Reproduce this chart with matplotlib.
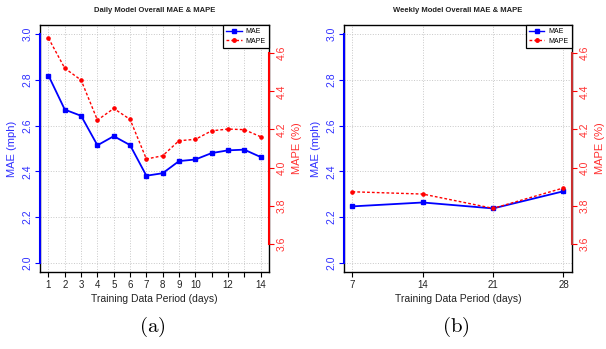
import numpy as np
import matplotlib
matplotlib.use("Agg")
import matplotlib.pyplot as plt
from matplotlib.lines import Line2D

plt.rcParams["font.family"] = ["Liberation Sans", "DejaVu Sans"]
plt.rcParams["mathtext.fontset"] = "cm"

# daily model
daily_days = [1, 2, 3, 4, 5, 6, 7, 8, 9, 10, 11, 12, 13, 14]
daily_mae = [2.819, 2.670, 2.643, 2.514, 2.554, 2.515, 2.381, 2.392,
             2.445, 2.452, 2.480, 2.492, 2.495, 2.463]
daily_mape = [4.679, 4.521, 4.459, 4.249, 4.310, 4.253, 4.045, 4.062,
              4.141, 4.148, 4.193, 4.202, 4.199, 4.162]
daily_xlabels = ["1", "2", "3", "4", "5", "6", "7", "8", "9", "10", "", "12", "", "14"]

# weekly model
weekly_days = [7, 14, 21, 28]
weekly_mae = [2.247, 2.264, 2.238, 2.313]
weekly_mape = [3.873, 3.861, 3.786, 3.893]
weekly_xlabels = ["7", "14", "21", "28"]

mae_ticks = [2.0, 2.2, 2.4, 2.6, 2.8, 3.0]
mape_ticks = [3.6, 3.8, 4.0, 4.2, 4.4, 4.6]

BLUE = "#0000ff"
RED = "#ff0000"


def r_range(lo, hi):
    # R style 4% padding
    pad = (hi - lo) * 0.04
    return lo - pad, hi + pad


def panel(fig, rect, days, mae, mape, xlabels, title, tag, right_col):
    ax = fig.add_axes(rect)
    ax2 = ax.twinx()

    ax.plot(days, mae, color=BLUE, lw=1.3, marker="s", ms=2.8, zorder=3)
    ax2.plot(days, mape, color=RED, lw=1.0, ls=(0, (2, 1.5)), marker="o", ms=2.3, zorder=3)

    ax.set_xlim(*r_range(days[0], days[-1]))
    ax.set_ylim(*r_range(2.0, 3.0))
    ax2.set_ylim(*r_range(3.5, 4.7))

    ax.set_xticks(days)
    ax.set_xticklabels(xlabels, fontsize=7, color="#222222")
    ax.set_yticks(mae_ticks)
    ax.set_yticklabels(["%.1f" % v for v in mae_ticks], fontsize=7.5, color="#3030ff",
                       rotation=90, va="center")
    ax2.set_yticks(mape_ticks)
    ax2.set_yticklabels(["%.1f" % v for v in mape_ticks], fontsize=7.5, color="#ff3030",
                        rotation=90, va="center")

    ax.tick_params(axis="x", length=3.5, width=0.8, pad=2)
    ax.tick_params(axis="y", length=3.5, width=0.8, pad=2, color=BLUE)
    ax2.tick_params(axis="y", length=3.5, width=0.8, pad=2, color=RED)

    ax.grid(True, color="#c8c8c8", ls=":", lw=0.7)
    ax.set_axisbelow(True)

    for s in ax.spines.values():
        s.set_color("black")
        s.set_linewidth(1.0)
    ax2.spines["left"].set_bounds(3.5, 4.7)
    ax2.spines["left"].set_color(BLUE)
    ax2.spines["left"].set_linewidth(1.5)
    ax2.spines["right"].set_bounds(3.6, 4.6)
    ax2.spines["right"].set_color(right_col)
    ax2.spines["right"].set_linewidth(1.5)
    ax2.spines["top"].set_visible(False)
    ax2.spines["bottom"].set_visible(False)

    ax.set_ylabel("MAE (mph)", color="#3030ff", fontsize=8, labelpad=4)
    ax2.set_ylabel("MAPE (%)", color="#ff3030", fontsize=8, rotation=90, labelpad=4)
    ax.set_xlabel("Training Data Period (days)", fontsize=7.5, color="#222222", labelpad=3)

    handles = [
        Line2D([], [], color=BLUE, lw=1.0, marker="s", ms=2.5),
        Line2D([], [], color=RED, lw=1.0, ls=(0, (2, 1.5)), marker="o", ms=2.5),
    ]
    leg = ax2.legend(handles, ["MAE", "MAPE"], loc="upper right", fontsize=5,
                     frameon=True, fancybox=False, edgecolor="black", framealpha=1,
                     borderaxespad=0, handlelength=2.2, handletextpad=0.6,
                     borderpad=0.45, labelspacing=0.35)
    leg.get_frame().set_linewidth(0.9)

    cx = rect[0] + rect[2] / 2
    fig.text(cx, 0.971, title, ha="center", va="center", fontsize=5.5,
             fontweight="bold", color="#222222")
    fig.text(cx - 0.004, 0.063, r"$\mathrm{(" + tag + r")}$", ha="center",
             va="center", fontsize=15)


fig = plt.figure(figsize=(6.06, 3.49), dpi=100)
panel(fig, [0.066, 0.2206, 0.378, 0.7077], daily_days, daily_mae, daily_mape,
      daily_xlabels, "Daily Model Overall MAE & MAPE", "a", RED)
panel(fig, [0.5677, 0.2206, 0.376, 0.7077], weekly_days, weekly_mae, weekly_mape,
      weekly_xlabels, "Weekly Model Overall MAE & MAPE", "b", "#c83030")

fig.savefig("out.png", dpi=100)
